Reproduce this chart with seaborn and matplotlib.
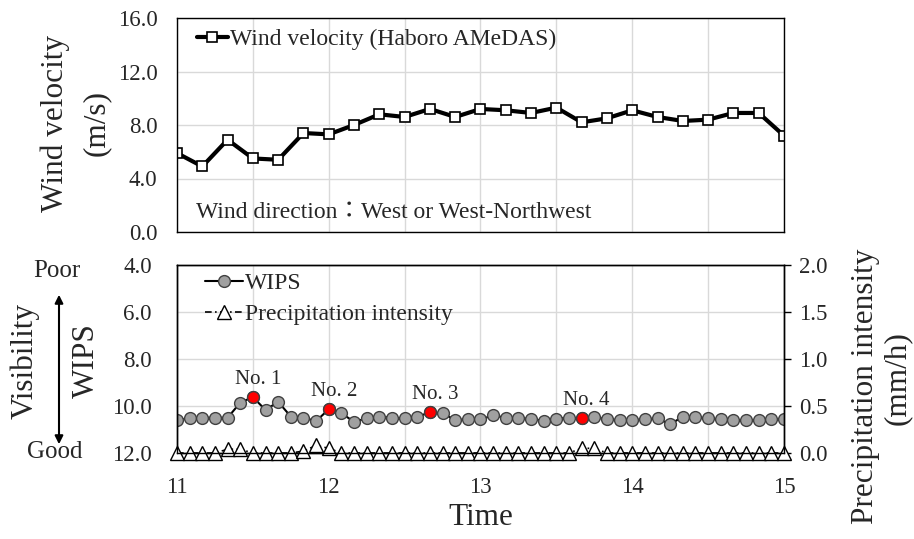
import pandas as pd
import matplotlib
matplotlib.use("Agg")
import matplotlib.pyplot as plt
from matplotlib.lines import Line2D
import seaborn as sns

# --- datos ---
# viento cada 10 min (AMeDAS Haboro)
wind_time = ["11:00", "11:10", "11:20", "11:30", "11:40", "11:50",
             "12:00", "12:10", "12:20", "12:30", "12:40", "12:50",
             "13:00", "13:10", "13:20", "13:30", "13:40", "13:50",
             "14:00", "14:10", "14:20", "14:30", "14:40", "14:50", "15:00"]
wind_speed = [5.9, 4.9, 6.9, 5.5, 5.4, 7.4, 7.3, 8.0, 8.8, 8.6, 9.2, 8.6,
              9.2, 9.1, 8.9, 9.3, 8.2, 8.5, 9.1, 8.6, 8.3, 8.4, 8.9, 8.9, 7.2]

# WIPS y precipitacion cada 5 min
wips_time = ["11:00", "11:05", "11:10", "11:15", "11:20", "11:25", "11:30", "11:35",
             "11:40", "11:45", "11:50", "11:55", "12:00", "12:05", "12:10", "12:15",
             "12:20", "12:25", "12:30", "12:35", "12:40", "12:45", "12:50", "12:55",
             "13:00", "13:05", "13:10", "13:15", "13:20", "13:25", "13:30", "13:35",
             "13:40", "13:45", "13:50", "13:55", "14:00", "14:05", "14:10", "14:15",
             "14:20", "14:25", "14:30", "14:35", "14:40", "14:45", "14:50", "14:55", "15:00"]
wips = [10.60, 10.53, 10.50, 10.50, 10.50, 9.86, 9.62, 10.17, 9.82, 10.45,
        10.50, 10.64, 10.14, 10.31, 10.67, 10.53, 10.45, 10.50, 10.53, 10.47,
        10.26, 10.31, 10.60, 10.57, 10.57, 10.40, 10.50, 10.53, 10.54, 10.64,
        10.54, 10.50, 10.53, 10.47, 10.57, 10.60, 10.60, 10.57, 10.53, 10.78,
        10.45, 10.47, 10.53, 10.57, 10.60, 10.60, 10.60, 10.57, 10.54]
precip = [0, 0, 0, 0, 0.04, 0.04, 0, 0, 0, 0, 0.02, 0.08, 0.05, 0, 0, 0,
          0, 0, 0, 0, 0, 0, 0, 0, 0, 0, 0, 0, 0, 0, 0, 0, 0.05, 0.05,
          0, 0, 0, 0, 0, 0, 0, 0, 0, 0, 0, 0, 0, 0, 0]
event_idx = [6, 12, 20, 32]
event_labels = ["No. 1", "No. 2", "No. 3", "No. 4"]


def a_horas(lista):
    t = pd.to_datetime(lista, format="%H:%M")
    return list(t.hour + t.minute / 60)


wind_h = a_horas(wind_time)
wips_h = a_horas(wips_time)

sns.set_style("white")
plt.rcParams["font.family"] = ["Liberation Serif", "Noto Sans CJK JP"]

W, H = 914, 539
fig = plt.figure(figsize=(W / 100, H / 100), dpi=100)


def caja(l, t, r, b):
    return [l / W, 1 - b / H, (r - l) / W, (b - t) / H]


GRID = "#d9d9d9"
TICK_FS = 16.5
LAB_FS = 22.5
LEG_FS = 17

ax1 = fig.add_axes(caja(177, 18, 784, 232))
ax2 = fig.add_axes(caja(177, 265, 784, 453))
ax3 = ax2.twinx()

# panel superior: velocidad del viento
sns.lineplot(x=wind_h, y=wind_speed, ax=ax1, color="black", linewidth=3,
             marker="s", markersize=6.5, markerfacecolor="white",
             markeredgecolor="black", markeredgewidth=1.2,
             label="Wind velocity (Haboro AMeDAS)", legend=False)
ax1.set_xlim(11, 15)
ax1.set_ylim(0, 16)
ax1.set_yticks([0, 4, 8, 12, 16])
ax1.set_yticklabels([f"{v:.1f}" for v in [0, 4, 8, 12, 16]])
ax1.set_xticks([11, 11.5, 12, 12.5, 13, 13.5, 14, 14.5, 15])
ax1.tick_params(axis="x", length=0, labelbottom=False)
ax1.tick_params(axis="y", length=0, labelsize=TICK_FS, pad=14)
ax1.grid(True, color=GRID, linewidth=1)
ax1.set_xlabel("")
ax1.set_ylabel("")
ax1.legend(loc="center left", bbox_to_anchor=(0.033, 0.90), frameon=False,
           fontsize=LEG_FS, handlelength=1.3, handletextpad=0.1,
           borderpad=0, borderaxespad=0)
ax1.text(0.031, 0.093, "Wind direction：West or West-Northwest",
         transform=ax1.transAxes, fontsize=LEG_FS, va="center", ha="left")

# panel inferior: WIPS
sns.lineplot(x=wips_h, y=wips, ax=ax2, color="black", linewidth=1.5,
             marker="o", markersize=8.5, markerfacecolor="#a0a0a0",
             markeredgecolor="#404040", markeredgewidth=1, legend=False)
ev_x = [wips_h[i] for i in event_idx]
ev_y = [wips[i] for i in event_idx]
sns.scatterplot(x=ev_x, y=ev_y, ax=ax2, color="red", edgecolor="#404040",
                linewidth=1, s=72, zorder=5, legend=False)
for xv, yv, txt in zip(ev_x, ev_y, event_labels):
    ax2.annotate(txt, (xv, yv), xytext=(5, 18), textcoords="offset pixels",
                 ha="center", va="center", fontsize=15)
ax2.set_xlim(11, 15)
ax2.set_ylim(12, 4)
ax2.set_yticks([4, 6, 8, 10, 12])
ax2.set_yticklabels([f"{v:.1f}" for v in [4, 6, 8, 10, 12]])
ax2.set_xticks([11, 12, 13, 14, 15])
ax2.set_xticklabels(["11", "12", "13", "14", "15"])
ax2.set_xticks([11.5, 12.5, 13.5, 14.5], minor=True)
ax2.tick_params(axis="x", which="both", length=0, labelsize=TICK_FS, pad=17)
ax2.tick_params(axis="y", length=0, labelsize=TICK_FS, pad=18)
ax2.grid(True, which="both", color=GRID, linewidth=1)
ax2.set_xlabel("Time", fontsize=LAB_FS, labelpad=4)
ax2.set_ylabel("")

# eje derecho: precipitacion
sns.lineplot(x=wips_h, y=precip, ax=ax3, color="black", linewidth=1.2,
             linestyle=(0, (4, 2, 1, 2)), marker="^", markersize=9.5,
             markerfacecolor="white", markeredgecolor="black",
             markeredgewidth=1, clip_on=False, legend=False)
ax3.set_ylim(0, 2)
ax3.set_yticks([0, 0.5, 1, 1.5, 2])
ax3.set_yticklabels([f"{v:.1f}" for v in [0, 0.5, 1, 1.5, 2]])
ax3.tick_params(axis="y", direction="out", length=5, width=1,
                labelsize=TICK_FS, pad=6, color="black")
ax3.set_ylabel("")
ax3.grid(False)

for ax in (ax1, ax2, ax3):
    for sp in ax.spines.values():
        sp.set_color("black")
        sp.set_linewidth(1)

handles = [
    Line2D([], [], color="black", linewidth=1.5, marker="o", markersize=8.5,
           markerfacecolor="#a0a0a0", markeredgecolor="#404040"),
    Line2D([], [], color="black", linewidth=1.2, linestyle=(0, (4, 2, 1, 2)),
           marker="^", markersize=9.5, markerfacecolor="white",
           markeredgecolor="black"),
]
ax3.legend(handles, ["WIPS", "Precipitation intensity"], loc="upper left",
           bbox_to_anchor=(0.046, 0.958), frameon=False, fontsize=LEG_FS,
           handlelength=1.6, handletextpad=0.1, labelspacing=0.4,
           borderpad=0, borderaxespad=0)

# rotulos de ejes en pixeles de la figura
def texto(x, y, s, **kw):
    fig.text(x / W, 1 - y / H, s, ha="center", va="center", **kw)


texto(55, 123, "Wind velocity", fontsize=LAB_FS, rotation=90)
texto(96, 123, "(m/s)", fontsize=LAB_FS, rotation=90)
texto(25, 361, "Visibility", fontsize=LAB_FS, rotation=90)
texto(86, 361, "WIPS", fontsize=LAB_FS, rotation=90)
texto(57, 271, "Poor", fontsize=18)
texto(55, 452, "Good", fontsize=18)
texto(866, 386, "Precipitation intensity", fontsize=LAB_FS, rotation=90)
texto(897, 378, "(mm/h)", fontsize=LAB_FS, rotation=90)
fig.add_artist(matplotlib.patches.FancyArrowPatch(
    (59 / W, 1 - 292 / H), (59 / W, 1 - 447 / H), transform=fig.transFigure,
    arrowstyle="<|-|>", mutation_scale=12, color="black", linewidth=1.5))

fig.savefig("out.png", dpi=100)
